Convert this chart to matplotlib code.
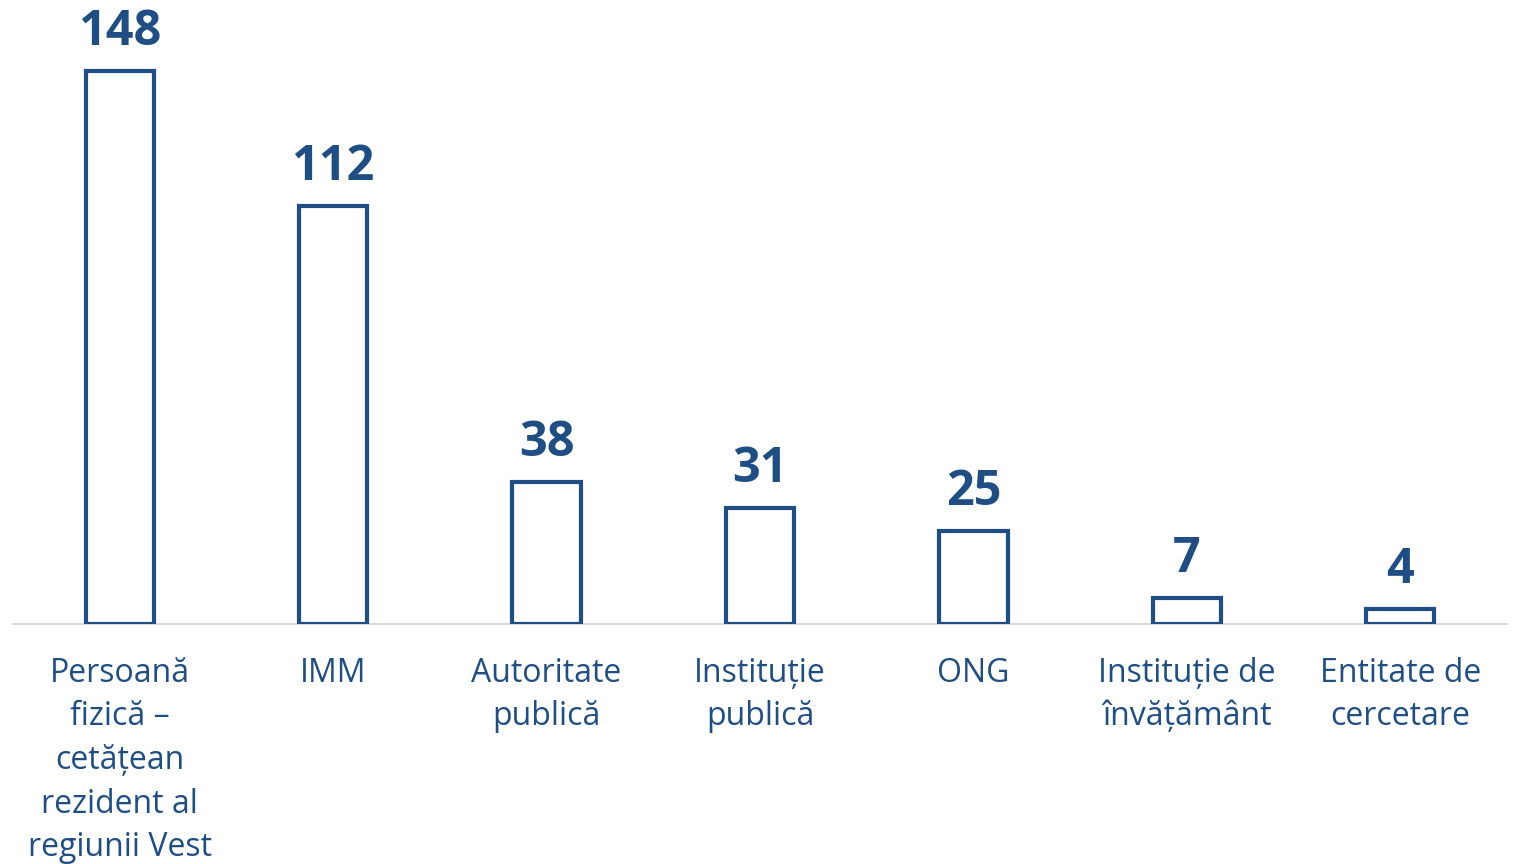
import matplotlib
matplotlib.use("Agg")
import matplotlib.pyplot as plt

categories = [
    "Persoană\nfizică –\ncetățean\nrezident al\nregiunii Vest",
    "IMM",
    "Autoritate\npublică",
    "Instituție\npublică",
    "ONG",
    "Instituție de\nînvățământ",
    "Entitate de\ncercetare",
]
values = [148, 112, 38, 31, 25, 7, 4]

blue = "#1F4E85"
plt.rcParams["font.family"] = ["Open Sans", "DejaVu Sans"]

fig = plt.figure(figsize=(15.17, 8.64), dpi=100)
ax = fig.add_axes([13 / 1517, 240 / 864, 1494 / 1517, 624 / 864])

x = range(len(values))
bars = ax.bar(x, values, width=0.32, facecolor="white", edgecolor=blue,
              linewidth=3, joinstyle="miter")

for b, v in zip(bars, values):
    ax.annotate(str(v), (b.get_x() + b.get_width() / 2, v), xytext=(0, 10),
                textcoords="offset points", ha="center", va="bottom",
                fontsize=35, fontweight="bold", color=blue)

ax.set_xlim(-0.5, len(values) - 0.5)
ax.set_ylim(0, 167)
ax.set_xticks(list(x))
ax.set_xticklabels(categories, fontsize=23, color=blue, linespacing=1.425)
ax.tick_params(axis="x", length=0, pad=23.5)
ax.set_yticks([])

for s in ["top", "left", "right"]:
    ax.spines[s].set_visible(False)
ax.spines["bottom"].set_color("#D9D9D9")
ax.spines["bottom"].set_linewidth(1.5)
ax.spines["bottom"].set_zorder(0)

fig.savefig("out.png", dpi=100)
